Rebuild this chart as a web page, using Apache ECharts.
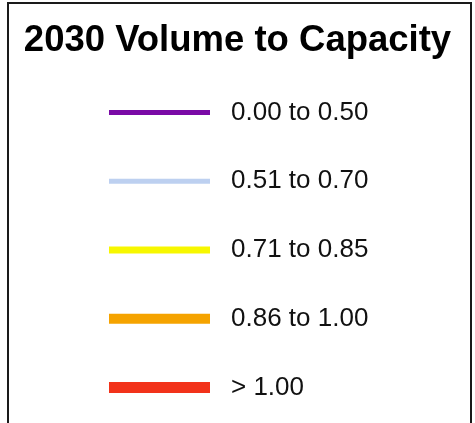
<!DOCTYPE html>
<html>
<head>
<meta charset="utf-8">
<script src="https://cdn.jsdelivr.net/npm/echarts@6/dist/echarts.min.js"></script>
<style>html,body{margin:0;padding:0;background:#fff}#c{width:475px;height:423px}</style>
</head>
<body>
<div id="c"></div>
<script>
const titleText = '2030 Volume to Capacity';
const classLabels = ['0.00 to 0.50', '0.51 to 0.70', '0.71 to 0.85', '0.86 to 1.00', '> 1.00'];
const classColors = ['#7a0aa6', '#bdd0f0', '#f7f700', '#f5a300', '#f2321a'];
const classWidths = [5, 5, 7, 10, 11];
const segStart = [0, 0, 0, 0, 0];
const segEnd = [1, 1, 1, 1, 1];

const chart = echarts.init(document.getElementById('c'), null, {renderer: 'canvas'});
const FONT = '"Liberation Sans", Arial, sans-serif';
chart.setOption({
  animation: false,
  backgroundColor: '#ffffff',
  title: {
    text: titleText,
    left: 'center',
    top: 17,
    textStyle: {fontFamily: FONT, fontSize: 36.5, fontWeight: 'bold', color: '#000'}
  },
  graphic: [{
    type: 'rect',
    shape: {x: 8, y: 3, width: 463, height: 440},
    style: {fill: 'none', stroke: '#1a1a1a', lineWidth: 2},
    silent: true
  }],
  grid: {left: 109, right: 265, top: 78, height: 344},
  xAxis: {type: 'value', min: 0, max: 1, show: false},
  yAxis: {
    type: 'category',
    data: classLabels,
    inverse: true,
    position: 'right',
    axisLine: {show: false},
    axisTick: {show: false},
    splitLine: {show: false},
    axisLabel: {
      margin: 21,
      align: 'left',
      padding: [5, 0, 0, 0],
      fontFamily: FONT,
      fontSize: 26,
      color: '#111'
    }
  },
  series: classLabels.map((lab, i) => ({
    type: 'line',
    name: lab,
    symbol: 'none',
    silent: true,
    lineStyle: {color: classColors[i], width: classWidths[i], cap: 'butt'},
    data: [[segStart[i], lab], [segEnd[i], lab]]
  }))
});
</script>
</body>
</html>
